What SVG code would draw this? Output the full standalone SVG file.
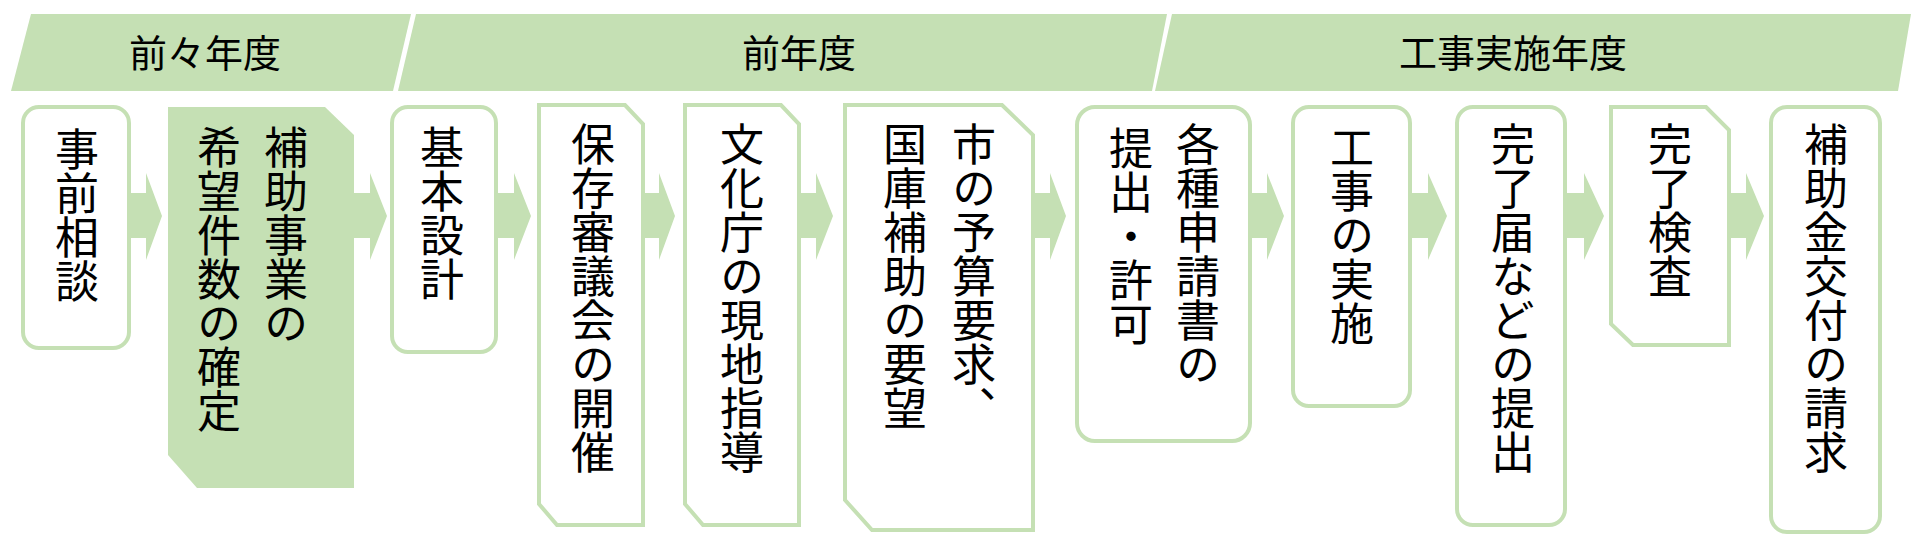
<svg xmlns="http://www.w3.org/2000/svg" width="1912" height="549" viewBox="0 0 1912 549">
<style>
.bn{fill:#c5e0b4}
.ar{fill:#c5e0b4}
.nd{fill:#ffffff;stroke:#c5e0b4;stroke-width:4}
.nf{fill:#c5e0b4}
.ht{font-family:"Noto Sans CJK JP","Noto Sans",sans-serif;font-size:38px;fill:#000;text-anchor:middle}
.vt{font-family:"Noto Sans CJK JP","Noto Sans",sans-serif;font-size:44px;fill:#000;writing-mode:vertical-rl;text-anchor:start}
</style>
<rect width="1912" height="549" fill="#ffffff"/>
<g id="banners">
<g id="b1"><polygon class="bn" points="31,14 411,14 393,91 11,91"/><text class="ht" x="205" y="67">前々年度</text></g>
<g id="b2"><polygon class="bn" points="416,14 1167,14 1152,91 398,91"/><text class="ht" x="799" y="67">前年度</text></g>
<g id="b3"><polygon class="bn" points="1172,14 1911,14 1898,91 1155,91"/><text class="ht" x="1513" y="67">工事実施年度</text></g>
</g>
<g id="connectors">
<polygon class="ar" points="128,193 146,193 146,173 162,216 146,260 146,238 128,238"/>
<polygon class="ar" points="354,193 370,193 370,173 387,216 370,260 370,238 354,238"/>
<polygon class="ar" points="496,193 514,193 514,173 531,216 514,260 514,238 496,238"/>
<polygon class="ar" points="643,193 659,193 659,173 675,216 659,260 659,238 643,238"/>
<polygon class="ar" points="799,193 816,193 816,173 833,216 816,260 816,238 799,238"/>
<polygon class="ar" points="1033,193 1050,193 1050,173 1066,216 1050,260 1050,238 1033,238"/>
<polygon class="ar" points="1250,193 1267,193 1267,173 1284,216 1267,260 1267,238 1250,238"/>
<polygon class="ar" points="1410,193 1428,193 1428,173 1447,216 1428,260 1428,238 1410,238"/>
<polygon class="ar" points="1565,193 1584,193 1584,173 1604,216 1584,260 1584,238 1565,238"/>
<polygon class="ar" points="1729,193 1746,193 1746,173 1764,216 1746,260 1746,238 1729,238"/>
</g>
<g id="n1"><rect class="nd" x="23" y="107" width="106" height="241" rx="16"/><text class="vt" x="77" y="127">事前相談</text></g>
<g id="n2"><polygon class="nf" points="168,107 325,107 354,135 354,488 197,488 168,455"/><text class="vt" x="286" y="125">補助事業の</text><text class="vt" x="219" y="125">希望件数の確定</text></g>
<g id="n3"><rect class="nd" x="392" y="107" width="104" height="245" rx="16"/><text class="vt" x="442" y="125">基本設計</text></g>
<g id="n4"><polygon class="nd" points="539,105 625,105 643,124 643,525 557,525 539,504"/><text class="vt" x="593" y="122">保存審議会の開催</text></g>
<g id="n5"><polygon class="nd" points="685,105 781,105 799,124 799,525 703,525 685,504"/><text class="vt" x="742" y="122">文化庁の現地指導</text></g>
<g id="n6"><polygon class="nd" points="845,105 1002,105 1033,135 1033,530 872,530 845,500"/><text class="vt" x="974" y="122">市の予算要求、</text><text class="vt" x="905" y="122">国庫補助の要望</text></g>
<g id="n7"><rect class="nd" x="1077" y="107" width="173" height="334" rx="18"/><text class="vt" x="1198" y="122">各種申請書の</text><text class="vt" x="1131" y="126">提出・許可</text></g>
<g id="n8"><rect class="nd" x="1293" y="107" width="117" height="299" rx="16"/><text class="vt" x="1352" y="125">工事の実施</text></g>
<g id="n9"><rect class="nd" x="1457" y="107" width="108" height="418" rx="16"/><text class="vt" x="1513" y="122">完了届などの提出</text></g>
<g id="n10"><polygon class="nd" points="1611,107 1706,107 1729,130 1729,345 1633,345 1611,324"/><text class="vt" x="1670" y="122">完了検査</text></g>
<g id="n11"><rect class="nd" x="1771" y="107" width="109" height="425" rx="16"/><text class="vt" x="1826" y="122">補助金交付の請求</text></g>
</svg>
